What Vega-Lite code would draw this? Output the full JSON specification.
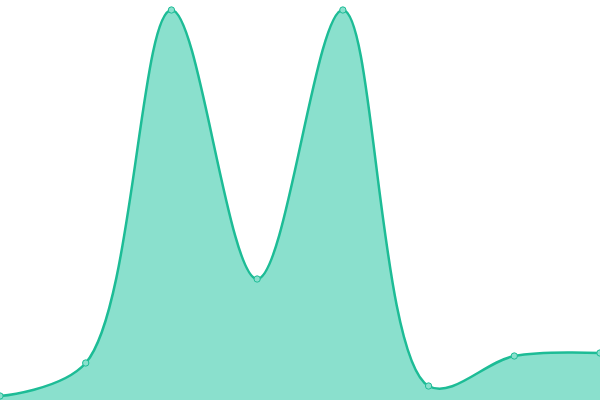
{
  "$schema": "https://vega.github.io/schema/vega-lite/v6.json",
  "autosize": "none",
  "width": 600,
  "height": 400,
  "padding": 0,
  "config": {"view": {"stroke": null}},
  "data": {
    "values": [
      {"i": 0, "v": 4},
      {"i": 1, "v": 37},
      {"i": 2, "v": 390},
      {"i": 3, "v": 121},
      {"i": 4, "v": 390},
      {"i": 5, "v": 14},
      {"i": 6, "v": 44},
      {"i": 7, "v": 47}
    ]
  },
  "encoding": {
    "x": {"field": "i", "type": "quantitative", "scale": {"domain": [0, 7], "nice": false, "zero": false}, "axis": null},
    "y": {"field": "v", "type": "quantitative", "scale": {"domain": [0, 400], "nice": false}, "axis": null}
  },
  "layer": [
    {"mark": {"type": "area", "interpolate": "catmull-rom", "color": "#8ae0cd", "opacity": 1}},
    {"mark": {"type": "line", "interpolate": "catmull-rom", "color": "#1dbc96", "strokeWidth": 2.5}},
    {"mark": {"type": "point", "filled": true, "size": 40, "fill": "#8ae0cd", "stroke": "#1dbc96", "strokeWidth": 1, "opacity": 1}}
  ]
}
